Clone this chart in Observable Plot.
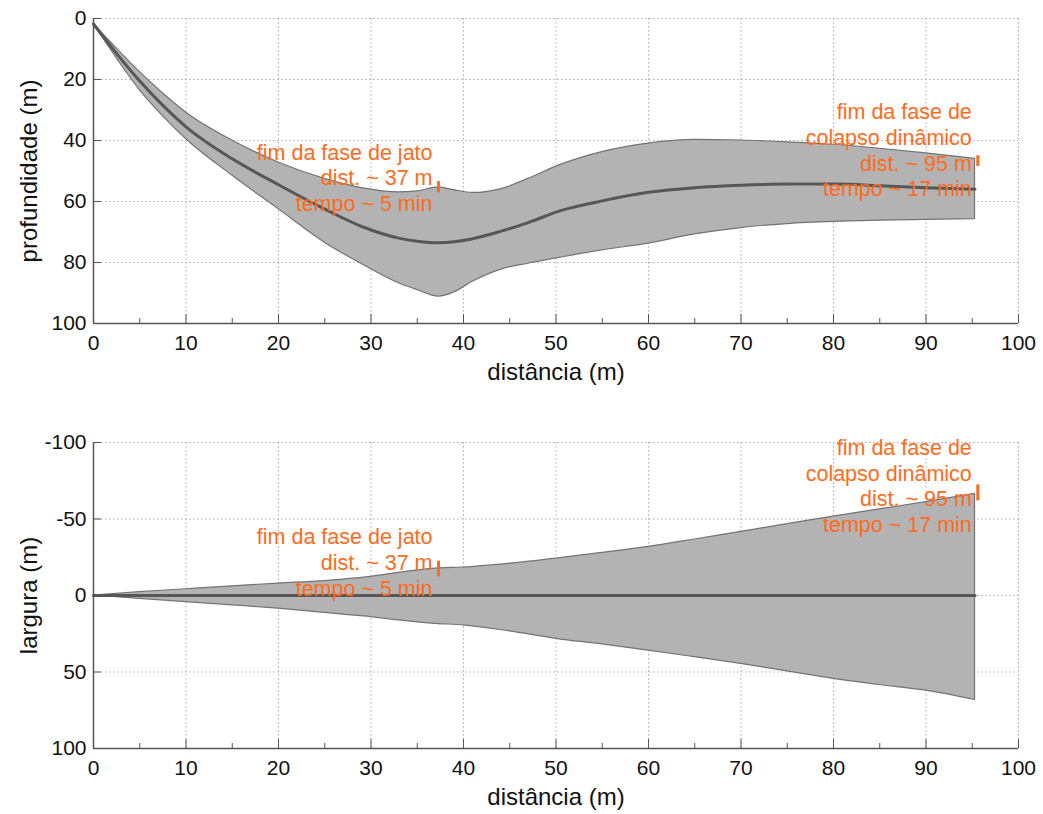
<!DOCTYPE html>
<html><head><meta charset="utf-8">
<script src="https://cdn.jsdelivr.net/npm/d3@7"></script>
<script src="https://cdn.jsdelivr.net/npm/@observablehq/plot@0.6"></script>
<style>body{margin:0;background:#fff} #chart svg{display:block}</style>
</head><body><div id="chart"></div>
<script>
// ---- Data: profundidade (top panel) ----
const distTop   = [0, 2.5, 5, 7.5, 10, 15, 20, 25, 29, 33, 35, 37.3, 39, 41, 44, 47, 50.5, 55, 60, 65, 70, 75, 80, 85, 90, 95.3];
const profMedia = [1.8, 11.5, 20.5, 28.5, 35.5, 46, 54.5, 62.5, 68.2, 72, 73, 73.5, 73.2, 72.2, 69.8, 66.9, 63, 59.8, 57, 55.5, 54.7, 54.3, 54.3, 54.8, 55.5, 56];
const profSup   = [1.8, 9.8, 17.5, 24.5, 30.8, 40, 47.2, 52.6, 55.6, 57, 56.7, 55.4, 56.3, 57.2, 56, 52.6, 48, 43.8, 41, 39.8, 40, 40.6, 41.4, 42.7, 44.2, 46];
const profInf   = [1.8, 13, 23.5, 32, 39.5, 51.5, 62.5, 73.5, 80.5, 86.8, 89, 91.2, 89.8, 86.3, 82.4, 80.4, 78.4, 76, 73.8, 70.8, 68.7, 67.4, 66.7, 66.3, 66, 65.8];

// ---- Data: largura (bottom panel) ----
const distBottom = [0, 5, 10, 15, 20, 25, 27, 30, 33, 37, 40, 45, 50, 55, 60, 65, 70, 75, 80, 85, 90, 95.3];
const largSup    = [0, -2.2, -4.1, -6, -7.8, -9.4, -10.4, -12.2, -14.8, -17.6, -18.3, -20.8, -24.1, -27.8, -31.8, -36.6, -41.6, -46.6, -51.5, -56.3, -61, -66.4];
const largInf    = [0, 2.2, 4.3, 6.4, 8.6, 11.3, 12.5, 14.1, 16.2, 18.5, 19.5, 23.5, 28.3, 32, 36, 40.3, 44.7, 49.6, 54.5, 58.5, 62.2, 68.3];
const largCentro = [0, 0, 0, 0, 0, 0, 0, 0, 0, 0, 0, 0, 0, 0, 0, 0, 0, 0, 0, 0, 0, 0];

// ---- Ticks ----
const xTicks = [0, 10, 20, 30, 40, 50, 60, 70, 80, 90, 100];
const xMinorTicks = [5, 15, 25, 35, 45, 55, 65, 75, 85, 95];
const xGrid = [10, 20, 30, 40, 50, 60, 70, 80, 90, 100];
const yTicksTop = [0, 20, 40, 60, 80, 100];
const yGridTop = [0, 20, 40, 60, 80];
const yTicksBottom = [-100, -50, 0, 50, 100];
const yGridBottom = [-100, -50, 0, 50];

// ---- Annotations ----
const annX = [37.3, 95.6];
const annTexts = ["fim da fase de jato\ndist. ~ 37 m\ntempo ~ 5 min", "fim da fase de\ncolapso dinâmico\ndist. ~ 95 m\ntempo ~ 17 min"];
const annTopY = [52, 43];
const annTopMark1 = [53.5, 45];
const annTopMark2 = [57.2, 48.5];
const annBotY = [-22, -72];
const annBotMark1 = [-22.4, -72.3];
const annBotMark2 = [-12.1, -61.8];

const xLabel = "distância (m)";
const yLabelTop = "profundidade (m)";
const yLabelBottom = "largura (m)";

const ORANGE = "#ff6b1a";
const FILL = "#b3b3b3";
const EDGE = "#737373";
const CENTER = "#575757";
const AXIS = "#555";
const GRID = "#aaa";
const FONT = "'Liberation Sans', Arial, sans-serif";

const topData = distTop.map((x, i) => ({x, m: profMedia[i], s: profSup[i], f: profInf[i]}));
const botData = distBottom.map((x, i) => ({x, c: largCentro[i], s: largSup[i], f: largInf[i]}));
const annTop = annX.map((x, i) => ({x, t: annTexts[i], y: annTopY[i], y1: annTopMark1[i], y2: annTopMark2[i]}));
const annBot = annX.map((x, i) => ({x, t: annTexts[i], y: annBotY[i], y1: annBotMark1[i], y2: annBotMark2[i]}));

function gridMarks(yGrid) {
  return [
    Plot.gridX({ticks: xGrid, stroke: GRID, strokeOpacity: 1, strokeDasharray: "1.5,2.5"}),
    Plot.gridY({ticks: yGrid, stroke: GRID, strokeOpacity: 1, strokeDasharray: "1.5,2.5"}),
  ];
}
function axesOver(yTicks, yEnd) {
  return [
    Plot.ruleX([0], {stroke: AXIS, strokeWidth: 1.5}),
    Plot.ruleY([yEnd], {stroke: AXIS, strokeWidth: 1.5}),
    Plot.axisX({ticks: xTicks, tickSize: -9, tickPadding: 21, tickFormat: d => String(d), label: null, stroke: AXIS, fill: "#111", fontSize: 21}),
    Plot.axisX({ticks: xMinorTicks, tickSize: -5, tickFormat: () => "", label: null, stroke: AXIS}),
    Plot.axisY({ticks: yTicks, tickSize: -8, tickPadding: 15, tickFormat: d => String(d), label: null, stroke: AXIS, fill: "#111", fontSize: 21}),
  ];
}
function labels(yLabel) {
  return [
    Plot.text([xLabel], {text: d => d, frameAnchor: "bottom", dy: 49, lineAnchor: "middle", textAnchor: "middle", fontSize: 24, fill: "#111"}),
    Plot.text([yLabel], {text: d => d, frameAnchor: "left", dx: -64, rotate: -90, textAnchor: "middle", lineAnchor: "middle", fontSize: 24, fill: "#111"})
  ];
}

const chartTop = Plot.plot({
  width: 1043, height: 400,
  marginLeft: 93, marginRight: 25, marginTop: 18, marginBottom: 77,
  style: {fontFamily: FONT, fontSize: "21px", background: "white", color: "#111"},
  x: {domain: [0, 100]},
  y: {domain: [0, 100], reverse: true},
  marks: [
    ...gridMarks(yGridTop),
    Plot.areaY(topData, {x: "x", y1: "s", y2: "f", fill: FILL, stroke: EDGE, strokeWidth: 1.2, curve: "monotone-x"}),
    Plot.line(topData, {x: "x", y: "m", stroke: CENTER, strokeWidth: 3, curve: "monotone-x"}),
    ...axesOver(yTicksTop, 100),
    Plot.ruleX(annTop, {x: "x", y1: "y1", y2: "y2", stroke: ORANGE, strokeWidth: 3}),
    Plot.text(annTop, {x: "x", y: "y", text: "t", textAnchor: "end", dx: -6, lineHeight: 1.19, fontSize: 21.5, fill: ORANGE}),
    ...labels(yLabelTop)
  ]
});

const chartBottom = Plot.plot({
  width: 1043, height: 414,
  marginLeft: 93, marginRight: 25, marginTop: 42, marginBottom: 66,
  style: {fontFamily: FONT, fontSize: "21px", background: "white", color: "#111"},
  x: {domain: [0, 100]},
  y: {domain: [-100, 100], reverse: true},
  marks: [
    ...gridMarks(yGridBottom),
    Plot.areaY(botData, {x: "x", y1: "s", y2: "f", fill: FILL, stroke: EDGE, strokeWidth: 1.2, curve: "monotone-x"}),
    Plot.line(botData, {x: "x", y: "c", stroke: CENTER, strokeWidth: 3}),
    ...axesOver(yTicksBottom, 100),
    Plot.ruleX(annBot, {x: "x", y1: "y1", y2: "y2", stroke: ORANGE, strokeWidth: 3}),
    Plot.text(annBot, {x: "x", y: "y", text: "t", textAnchor: "end", dx: -6, lineHeight: 1.19, fontSize: 21.5, fill: ORANGE}),
    ...labels(yLabelBottom)
  ]
});

document.getElementById("chart").append(chartTop, chartBottom);
</script></body></html>
